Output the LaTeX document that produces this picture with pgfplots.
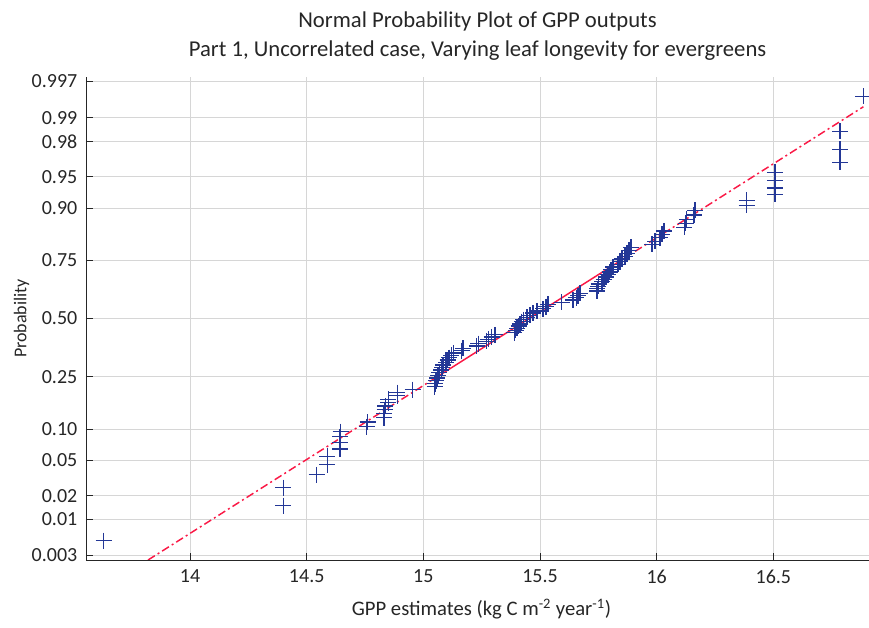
\documentclass[border=0pt]{standalone}
\usepackage{fontspec}
\setmainfont{Carlito}
\usepackage{pgfplots}
\usepackage{pgfplotstable}
\pgfplotsset{compat=1.18}
\definecolor{mk}{RGB}{35,55,150}
\definecolor{ln}{RGB}{250,25,70}
\definecolor{ax}{RGB}{38,38,38}
% x = GPP estimate, q = normal quantile of (i-0.5)/100
\pgfplotstableread{
x q
13.630 -2.5758
14.400 -2.1701
14.400 -1.9600
14.543 -1.8119
14.588 -1.6954
14.588 -1.5982
14.643 -1.5141
14.643 -1.4395
14.643 -1.3722
14.645 -1.3106
14.757 -1.2536
14.761 -1.2004
14.831 -1.1503
14.831 -1.1031
14.834 -1.0581
14.836 -1.0152
14.850 -0.9741
14.850 -0.9346
14.888 -0.8965
14.888 -0.8596
14.954 -0.8239
15.048 -0.7892
15.050 -0.7554
15.054 -0.7225
15.059 -0.6903
15.063 -0.6588
15.069 -0.6280
15.076 -0.5978
15.080 -0.5681
15.084 -0.5388
15.097 -0.5101
15.104 -0.4817
15.110 -0.4538
15.119 -0.4261
15.129 -0.3989
15.164 -0.3719
15.170 -0.3451
15.229 -0.3186
15.236 -0.2924
15.272 -0.2663
15.278 -0.2404
15.293 -0.2147
15.307 -0.1891
15.389 -0.1637
15.395 -0.1383
15.401 -0.1130
15.408 -0.0878
15.414 -0.0627
15.421 -0.0376
15.428 -0.0125
15.444 0.0125
15.457 0.0376
15.470 0.0627
15.487 0.0878
15.513 0.1130
15.526 0.1383
15.534 0.1637
15.593 0.1891
15.641 0.2147
15.656 0.2404
15.663 0.2663
15.671 0.2924
15.744 0.3186
15.746 0.3451
15.749 0.3719
15.751 0.3989
15.766 0.4261
15.774 0.4538
15.783 0.4817
15.791 0.5101
15.798 0.5388
15.804 0.5681
15.813 0.5978
15.834 0.6280
15.843 0.6588
15.851 0.6903
15.864 0.7225
15.873 0.7554
15.881 0.7892
15.890 0.8239
15.980 0.8596
15.993 0.8965
16.014 0.9346
16.023 0.9741
16.031 1.0152
16.119 1.0581
16.124 1.1031
16.129 1.1503
16.160 1.2004
16.164 1.2536
16.386 1.3106
16.386 1.3722
16.507 1.4395
16.507 1.5141
16.507 1.5982
16.507 1.6954
16.786 1.8119
16.786 1.9600
16.786 2.1701
16.886 2.5758
}\gppdata
\begin{document}
\begin{tikzpicture}
\begin{axis}[
  at={(0,0)}, anchor=south west,
  scale only axis, width=587.25pt, height=362.25pt,
  xmin=13.554, xmax=16.91, ymin=-2.8, ymax=2.8,
  axis x line*=bottom, axis y line*=left,
  axis line style={ax, line width=0.6pt},
  tick align=inside, major tick length=5pt,
  tick style={ax, line width=0.6pt},
  grid=major, grid style={black!16, line width=0.6pt},
  xtick={14,14.5,15,15.5,16,16.5},
  xticklabels={14,14.5,15,15.5,16,16.5},
  ytick={-2.7478,-2.3263,-2.0537,-1.6449,-1.2816,-0.6745,0,0.6745,1.2816,1.6449,2.0537,2.3263,2.7478},
  yticklabels={0.003,0.01,0.02,0.05,0.10,0.25,0.50,0.75,0.90,0.95,0.98,0.99,0.997},
  tick label style={font=\fontsize{15}{18}\selectfont, text=ax},
  xticklabel style={yshift=-4pt},
  yticklabel style={xshift=-3pt},
  xlabel={GPP estimates (kg C m\textsuperscript{-2} year\textsuperscript{-1})},
  ylabel={Probability},
  label style={text=ax},
  xlabel style={font=\fontsize{15.5}{18}\selectfont, yshift=-5pt, xshift=3pt},
  ylabel style={font=\fontsize{13.5}{16}\selectfont, yshift=-5pt},
  title={Normal Probability Plot of GPP outputs\\Part 1, Uncorrelated case, Varying leaf longevity for evergreens},
  title style={align=center, font=\fontsize{17}{21.75}\selectfont, text=ax, yshift=3pt},
  clip=true,
]
\addplot[ln, line width=1.1pt, dash pattern=on 6pt off 2.5pt on 1.5pt off 2.5pt]
  coordinates {(13.820,-2.8) (15.06,-0.6745)};
\addplot[ln, line width=1.1pt] coordinates {(15.06,-0.6745) (15.847,0.6745)};
\addplot[ln, line width=1.1pt, dash pattern=on 6pt off 2.5pt on 1.5pt off 2.5pt]
  coordinates {(15.847,0.6745) (16.886,2.455)};
\addplot[only marks, mark=+, mark size=6pt, mk, mark options={line width=0.9pt}]
  table[x=x, y=q] {\gppdata};
\end{axis}
\pgfresetboundingbox
\useasboundingbox (-64.5pt,-51pt) rectangle (587.25pt,420pt);
\end{tikzpicture}
\end{document}
